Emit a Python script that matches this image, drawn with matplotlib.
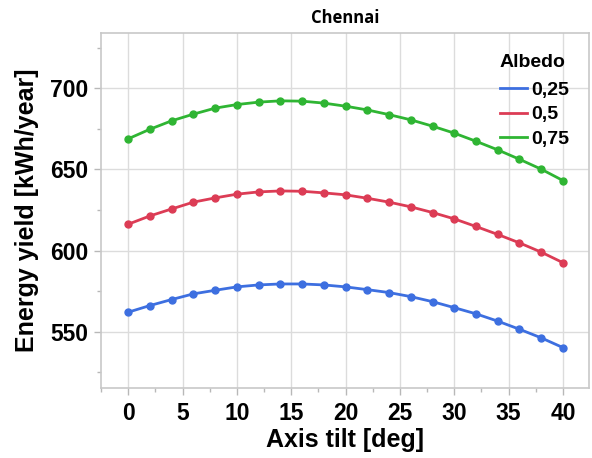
import matplotlib
matplotlib.use("Agg")
import matplotlib.pyplot as plt
from matplotlib.ticker import MultipleLocator
from matplotlib.font_manager import FontProperties

# Axis tilt in degrees
tilt = [0, 2, 4, 6, 8, 10, 12, 14, 16, 18, 20, 22, 24, 26, 28, 30, 32, 34, 36, 38, 40]

# Annual energy yield [kWh/year] per ground albedo
yield_025 = [562.0, 566.1, 569.8, 573.3, 575.5, 577.6, 578.8, 579.4, 579.4, 578.8, 577.6,
             575.9, 574.1, 571.6, 568.5, 564.8, 561.0, 556.5, 551.5, 546.2, 540.2]
yield_050 = [616.2, 621.3, 625.6, 629.8, 632.4, 634.7, 636.1, 636.7, 636.5, 635.5, 634.3,
             632.2, 629.8, 626.9, 623.4, 619.5, 614.8, 609.9, 604.7, 599.0, 592.5]
yield_075 = [668.8, 674.7, 679.9, 684.0, 687.7, 689.9, 691.4, 692.2, 692.0, 690.8, 688.9,
             686.6, 683.7, 680.5, 676.6, 672.3, 667.3, 662.0, 656.2, 650.1, 643.1]

series_labels = ["0,25", "0,5", "0,75"]
series_colors = ["#3d6fe0", "#dc3c55", "#2fb533"]

fig = plt.figure(figsize=(5.92, 4.58), dpi=100)
ax = fig.add_axes([0.1706, 0.1528, 0.8244, 0.7752])

for values, lab, col in zip([yield_025, yield_050, yield_075], series_labels, series_colors):
    ax.plot(tilt, values, color=col, lw=2.0, marker="o", ms=5, label=lab, zorder=3)

ax.set_xlim(-2.5, 42.4)
ax.set_ylim(515.3, 734)
ax.xaxis.set_major_locator(MultipleLocator(5))
ax.xaxis.set_minor_locator(MultipleLocator(2.5))
ax.yaxis.set_major_locator(MultipleLocator(50))
ax.yaxis.set_minor_locator(MultipleLocator(25))
ax.set_yticks([550, 600, 650, 700])

ax.grid(True, which="major", color="#dcdcdc", lw=1.0, zorder=0)
for side in ["left", "bottom", "top", "right"]:
    ax.spines[side].set_color("#c8c8c8")
    ax.spines[side].set_linewidth(1.2)

ax.tick_params(which="major", length=5, width=1, color="#b8b8b8", pad=4)
ax.tick_params(which="minor", length=3, width=1, color="#b8b8b8")

tick_fp = FontProperties(family="Liberation Sans", weight="bold", size=16.5)
for lbl in ax.get_xticklabels() + ax.get_yticklabels():
    lbl.set_fontproperties(tick_fp)
ax.tick_params(axis="x", pad=5)

label_font = dict(family="Liberation Sans", fontweight="bold", fontsize=18)
ax.set_xlabel("Axis tilt [deg]", labelpad=2, **label_font)
ax.set_ylabel("Energy yield [kWh/year]", labelpad=8, **label_font)
ax.set_title("Chennai", fontfamily="Open Sans", fontweight="bold", fontsize=12, pad=7)

leg = ax.legend(loc="upper left", bbox_to_anchor=(0.8176, 0.864), frameon=False,
                prop=dict(family="Liberation Sans", weight="bold", size=14),
                handlelength=1.4, handletextpad=0.2, labelspacing=0.36,
                borderaxespad=0, borderpad=0)
for h in leg.legend_handles:
    h.set_marker("")
ax.text(0.8156, 0.918, "Albedo", transform=ax.transAxes, ha="left", va="center",
        fontfamily="Liberation Sans", fontweight="bold", fontsize=14)

fig.savefig("out.png", dpi=100)
